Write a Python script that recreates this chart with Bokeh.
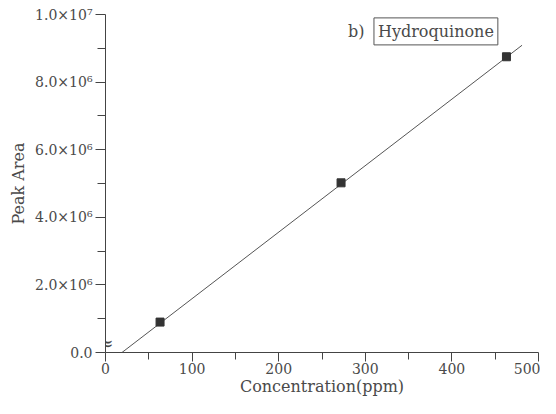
from bokeh.plotting import figure
from bokeh.models import Range1d, FixedTicker, Label, CustomJSTickFormatter
from bokeh.core.properties import value
from bokeh.embed import file_html
from bokeh.resources import INLINE

# data
conc = [63, 272, 463]
area = [0.9e6, 5.02e6, 8.75e6]
fit_x = [19, 481]
fit_y = [0.0, 9.09e6]
x_ticks = [0, 100, 200, 300, 400, 500]
y_ticks = [0, 2e6, 4e6, 6e6, 8e6, 1e7]
y_tick_labels = ["0.0", "2.0×10⁶", "4.0×10⁶", "6.0×10⁶", "8.0×10⁶", "1.0×10⁷"]

FONT = "DejaVu Serif"
TXT = "#4a4a4a"

p = figure(width=540, height=398, output_backend="svg", toolbar_location=None,
           x_range=Range1d(0, 500), y_range=Range1d(0, 1e7),
           min_border_left=105, min_border_right=2, min_border_top=14, min_border_bottom=44)
p.outline_line_color = None
p.grid.visible = False

p.line(fit_x, fit_y, line_color="#555555", line_width=1)
p.scatter(conc, area, marker="square", size=8, fill_color="#333333", line_color="#333333")

xa = p.xaxis[0]
xa.ticker = FixedTicker(ticks=x_ticks, minor_ticks=[50, 150, 250, 350, 450])
xa.axis_label = "Concentration(ppm)"
ya = p.yaxis[0]
ya.ticker = FixedTicker(ticks=y_ticks, minor_ticks=[1e6, 3e6, 5e6, 7e6, 9e6])
ya.axis_label = "Peak Area"
ya.formatter = CustomJSTickFormatter(args=dict(tv=y_ticks, tl=y_tick_labels), code="""
    for (let i = 0; i < tv.length; i++) { if (Math.abs(tick - tv[i]) < 1) return tl[i]; }
    return "";
""")

for ax in (xa, ya):
    ax.axis_line_color = "#444444"
    ax.major_tick_line_color = "#444444"
    ax.minor_tick_line_color = "#444444"
    ax.major_tick_out = 10
    ax.major_tick_in = 0
    ax.minor_tick_out = 7
    ax.minor_tick_in = 0
    ax.major_label_text_font = FONT
    ax.major_label_text_color = TXT
    ax.major_label_text_font_size = "14px"
    ax.axis_label_text_font = FONT
    ax.axis_label_text_color = TXT
    ax.axis_label_text_font_size = "16px"
    ax.axis_label_text_font_style = "normal"
    ax.major_label_standoff = 3
ya.axis_label_standoff = 4
xa.axis_label_standoff = 0
xa.major_tick_out = 9
xa.major_label_standoff = 1
ya.minor_tick_out = 8

p.add_layout(Label(x=310, y=9.5e6, text="Hydroquinone", text_font=FONT, text_font_size="16px",
                   text_color=TXT, text_baseline="middle", text_align="left",
                   border_line_color="#555555", border_line_width=1, padding=4))
p.add_layout(Label(x=280, y=9.5e6, text="b)", text_font=FONT, text_font_size="16px",
                   text_color=TXT, text_baseline="middle", text_align="left"))
p.text(x=[0], y=[0.28e6], text=["≈"], text_font=value(FONT), text_font_size="20px",
       text_color="#444444", text_align="center", text_baseline="middle")

open("out.html", "w").write(file_html(p, INLINE))
